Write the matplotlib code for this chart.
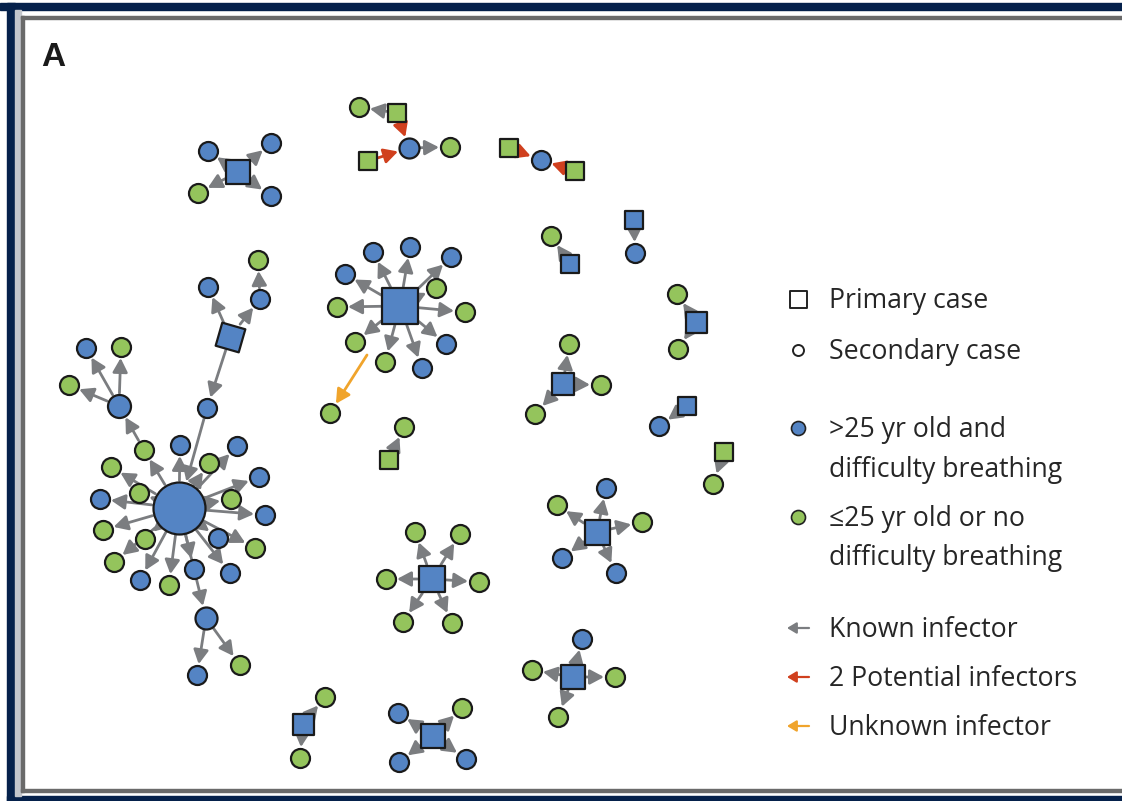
import numpy as np
import matplotlib
matplotlib.use("Agg")
import matplotlib.pyplot as plt
from matplotlib.patches import FancyArrowPatch, Rectangle
from matplotlib.markers import MarkerStyle
from matplotlib.transforms import Affine2D

# MARK: colours

BLUE = "#5484c4"
GREEN = "#94c45c"
EDGE_COLORS = {"known": "#7b7d80", "two": "#d0401e", "unknown": "#f0a42c"}
NAVY = "#05214b"

# MARK: cases (layout in pixel units of the panel)

node_x = [238, 208, 271, 198, 271,
          397, 359, 409, 368, 450,
          509, 541, 575,
          570, 551,
          634, 635,
          696, 677, 678,
          563, 569, 601, 535,
          687, 659,
          724, 713,
          597, 557, 606, 642, 562, 616,
          573, 582, 532, 615, 558,
          400, 373, 410, 451, 345, 436, 337, 465, 355, 446, 385, 422,
          330,
          389, 404,
          432, 415, 460, 386, 479, 403, 452,
          303, 325, 300,
          433, 398, 462, 399, 466,
          230, 208, 260, 258, 207, 179, 144, 119, 86, 121, 69,
          180, 209, 237, 111, 139, 259, 100, 231, 265, 103, 145, 218,
          255, 114, 194, 230, 140, 169, 206, 197, 240]
node_y = [172, 151, 143, 193, 196,
          113, 107, 148, 161, 147,
          148, 160, 171,
          264, 236,
          220, 253,
          322, 294, 349,
          384, 344, 385, 414,
          406, 426,
          452, 484,
          532, 505, 488, 522, 558, 573,
          677, 639, 670, 677, 717,
          306, 252, 247, 257, 274, 288, 307, 312, 342, 344, 362, 368,
          413,
          460, 427,
          579, 532, 534, 579, 582, 622, 623,
          724, 697, 758,
          736, 713, 708, 762, 759,
          337, 287, 299, 260, 408, 508, 450, 406, 348, 347, 385,
          445, 463, 446, 467, 493, 477, 499, 499, 515, 530, 539, 538,
          548, 562, 569, 573, 580, 585, 618, 675, 665]
# s = primary (square), o = secondary (circle)
node_shape = (["s", "o", "o", "o", "o",
               "s", "o", "o", "s", "o",
               "s", "o", "s",
               "s", "o",
               "s", "o",
               "s", "o", "o",
               "s", "o", "o", "o",
               "s", "o",
               "s", "o",
               "s", "o", "o", "o", "o", "o",
               "s", "o", "o", "o", "o",
               "s"] + ["o"] * 11 + ["o",
               "s", "o",
               "s", "o", "o", "o", "o", "o", "o",
               "s", "o", "o",
               "s", "o", "o", "o", "o",
               "s"] + ["o"] * 31)
# b = >25 yr and difficulty breathing, g = otherwise
node_group = list("bbbgb" "ggbgg" "gbg" "bg" "bb" "bgg" "bggg" "bb" "gg"
                  "bgbgbb" "bbggg" "bbbbbggggbgb" "g" "gg" "bgggggg" "bgg"
                  "bbgbb" "bbbgbbgbbgg" "bgbggbbgbggbggbbbgbbg")
# marker diameter / side in pixels, default small case
node_size = {0: 24, 5: 18, 7: 20, 8: 18, 10: 18, 12: 18, 13: 18, 15: 18,
             17: 21, 20: 22, 24: 18, 26: 18, 28: 25, 34: 24, 39: 36,
             52: 18, 54: 27, 61: 21, 64: 24, 69: 24, 74: 52, 76: 23, 98: 22}
SMALL = 19

# infector -> infected
edge_src = [0, 0, 0, 0, 5, 5, 8, 7, 10, 12, 13, 15, 17, 17, 20, 20, 20, 24, 26,
            28, 28, 28, 28, 28, 34, 34, 34, 34] + [39] * 11 + [
            52, 54, 54, 54, 54, 54, 54, 61, 61, 64, 64, 64, 64,
            69, 69, 71, 69, 73, 74, 75, 76, 76, 76] + [74] * 19 + [98, 98]
edge_dst = [1, 2, 3, 4, 6, 7, 7, 9, 11, 11, 14, 16, 18, 19, 21, 22, 23, 25, 27,
            29, 30, 31, 32, 33, 35, 36, 37, 38] + list(range(40, 51)) + [
            53, 55, 56, 57, 58, 59, 60, 62, 63, 65, 66, 67, 68,
            70, 71, 72, 73, 74, 75, 76, 77, 78, 79] + list(range(80, 99)) + [99, 100]
edge_kind = ["known"] * 5 + ["two", "two", "known", "two", "two"] + ["known"] * 73

# unknown infector: arrow tail has no case attached
unknown_tail = (367, 355)
unknown_case = 51

legend_labels = ["Primary case", "Secondary case",
                 ">25 yr old and", "difficulty breathing",
                 "\u226425 yr old or no", "difficulty breathing",
                 "Known infector", "2 Potential infectors", "Unknown infector"]
legend_rows = [299, 350, 428, 468, 517, 556, 628, 677, 726]

W, H = 1122, 801
fig = plt.figure(figsize=(W / 100, H / 100), dpi=100, facecolor="white")
ax = fig.add_axes([0, 0, 1, 1])
ax.set_xlim(0, W)
ax.set_ylim(H, 0)
ax.axis("off")

PT = 0.72  # points per pixel at dpi 100


def size_of(i):
    return node_size.get(i, SMALL)


def edge_dist(i, ux, uy):
    d = size_of(i) / 2
    if node_shape[i] == "s":
        return d / max(abs(ux), abs(uy)) + 1
    return d + 1.5


def arrow(p0, p1, color):
    ax.add_patch(FancyArrowPatch(p0, p1, arrowstyle="-|>,head_length=0.6,head_width=0.32",
                                 mutation_scale=14, color=color, lw=2.0,
                                 shrinkA=0, shrinkB=0, zorder=2))


# MARK: edges

for s, t, k in zip(edge_src, edge_dst, edge_kind):
    x0, y0, x1, y1 = node_x[s], node_y[s], node_x[t], node_y[t]
    L = np.hypot(x1 - x0, y1 - y0)
    ux, uy = (x1 - x0) / L, (y1 - y0) / L
    a, b = edge_dist(s, ux, uy), edge_dist(t, ux, uy)
    arrow((x0 + a * ux, y0 + a * uy), (x1 - b * ux, y1 - b * uy), EDGE_COLORS[k])

x0, y0 = unknown_tail
x1, y1 = node_x[unknown_case], node_y[unknown_case]
L = np.hypot(x1 - x0, y1 - y0)
b = edge_dist(unknown_case, 0, 1)
arrow((x0, y0), (x1 - b * (x1 - x0) / L, y1 - b * (y1 - y0) / L), EDGE_COLORS["unknown"])

# MARK: nodes

for i in range(len(node_x)):
    col = BLUE if node_group[i] == "b" else GREEN
    m = node_shape[i]
    if i == 69:
        m = MarkerStyle("s", transform=Affine2D().rotate_deg(-16))
    ax.scatter(node_x[i], node_y[i], s=(size_of(i) * PT) ** 2, marker=m,
               facecolor=col, edgecolor="#1a1a1a", linewidth=1.6, zorder=3)

# MARK: legend

LX, TX = 798, 829
ax.scatter(LX, legend_rows[0], s=(17 * PT) ** 2, marker="s", facecolor="white",
           edgecolor="#222222", linewidth=1.4, zorder=3)
ax.scatter(LX, legend_rows[1], s=(11 * PT) ** 2, marker="o", facecolor="white",
           edgecolor="#222222", linewidth=1.4, zorder=3)
ax.scatter(LX, legend_rows[2], s=(14 * PT) ** 2, marker="o", facecolor=BLUE,
           edgecolor="#222222", linewidth=1.2, zorder=3)
ax.scatter(LX, legend_rows[4], s=(14 * PT) ** 2, marker="o", facecolor=GREEN,
           edgecolor="#222222", linewidth=1.2, zorder=3)
for row, k in zip(legend_rows[6:], ["known", "two", "unknown"]):
    ax.add_patch(FancyArrowPatch((809, row), (787, row),
                                 arrowstyle="-|>,head_length=0.5,head_width=0.3",
                                 mutation_scale=11, color=EDGE_COLORS[k], lw=1.6,
                                 shrinkA=0, shrinkB=0))
for lab, row in zip(legend_labels, legend_rows):
    ax.text(TX, row + 2, lab, fontsize=19.2, family=["Open Sans", "DejaVu Sans"],
            color="#262626", va="center", ha="left")

ax.text(41, 57, "A", fontsize=24, family="Liberation Sans", fontweight="bold",
        color="#1a1a1a", va="center", ha="left")

# MARK: frame

ax.add_patch(Rectangle((0, 3), W, 7, color=NAVY, zorder=5))
ax.add_patch(Rectangle((7, 3), 8, H - 3, color=NAVY, zorder=5))
ax.add_patch(Rectangle((7, 796), W, 5, color=NAVY, zorder=5))
ax.add_patch(Rectangle((15, 10), 6, 786, color="#c3c6cc", zorder=5))
ax.add_patch(Rectangle((21, 16), W, 3, color="#6a6a6a", zorder=5))
ax.add_patch(Rectangle((21, 16), 3, 776, color="#6a6a6a", zorder=5))
ax.add_patch(Rectangle((21, 789), W, 3, color="#6a6a6a", zorder=5))

fig.savefig("out.png", dpi=100)
